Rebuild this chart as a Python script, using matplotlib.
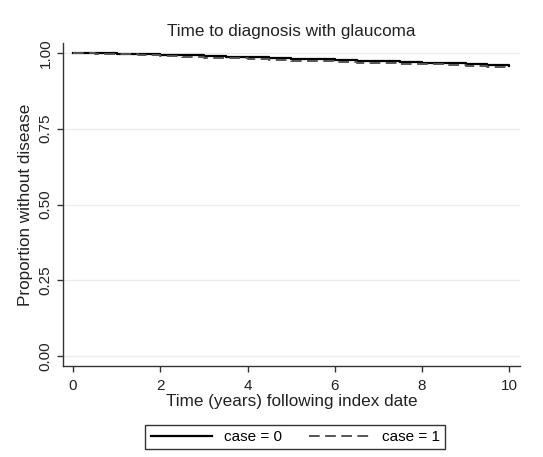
import matplotlib
matplotlib.use("Agg")
import matplotlib.pyplot as plt

plt.rcParams['font.family'] = ['Liberation Sans', 'DejaVu Sans']

# Kaplan-Meier survival estimates (proportion without glaucoma) by case status
years = [0, 0.5, 1, 1.5, 2, 2.5, 3, 3.5, 4, 4.5, 5, 5.5, 6, 6.5, 7, 7.5, 8, 8.5, 9, 9.5, 10]
surv_case0 = [1.000, 0.999, 0.998, 0.996, 0.994, 0.992, 0.990, 0.988, 0.986, 0.984, 0.981,
              0.979, 0.977, 0.975, 0.972, 0.970, 0.968, 0.966, 0.963, 0.960, 0.957]
surv_case1 = [1.000, 0.998, 0.996, 0.993, 0.990, 0.987, 0.984, 0.982, 0.979, 0.977, 0.974,
              0.972, 0.970, 0.968, 0.966, 0.964, 0.962, 0.959, 0.956, 0.953, 0.950]
y_ticks = [0.00, 0.25, 0.50, 0.75, 1.00]
y_tick_labels = ["0.00", "0.25", "0.50", "0.75", "1.00"]
x_ticks = [0, 2, 4, 6, 8, 10]

fig = plt.figure(figsize=(5.43, 4.57), dpi=100)
ax = fig.add_axes([0.116, 0.199, 0.842, 0.707])

ax.step(years, surv_case0, where="post", color="black", lw=1.6, label="case = 0")
ax.step(years, surv_case1, where="post", color="#555555", lw=1.4,
        linestyle=(0, (5.5, 2.8)), label="case = 1")

ax.set_xlim(-0.23, 10.25)
ax.set_ylim(-0.033, 1.033)
ax.set_yticks(y_ticks)
ax.set_yticklabels(y_tick_labels, rotation=90, va="center")
ax.set_xticks(x_ticks)
ax.grid(axis="y", color="#ececec", lw=1)
ax.set_axisbelow(True)

for s in ("top", "right"):
    ax.spines[s].set_visible(False)
for s in ("left", "bottom"):
    ax.spines[s].set_color("#333333")
    ax.spines[s].set_linewidth(1.0)
ax.tick_params(axis="both", direction="out", length=4, width=1, color="#333333",
               labelsize=11, labelcolor="#222222")
ax.tick_params(axis="x", pad=5)

ax.set_title("Time to diagnosis with glaucoma", fontsize=12.3, color="#222222", pad=5)
ax.set_xlabel("Time (years) following index date", fontsize=12.3, color="#222222", labelpad=1)
ax.set_ylabel("Proportion without disease", fontsize=12.3, color="#222222", labelpad=4)

leg = fig.legend(loc="center", bbox_to_anchor=(0.544, 0.044), ncol=2, frameon=True,
                 fancybox=False, edgecolor="black", fontsize=11, handlelength=4.0,
                 columnspacing=1.75, handletextpad=0.8, borderpad=0.35)
leg.get_frame().set_linewidth(1.0)

fig.savefig("out.png", dpi=100, facecolor="white")
